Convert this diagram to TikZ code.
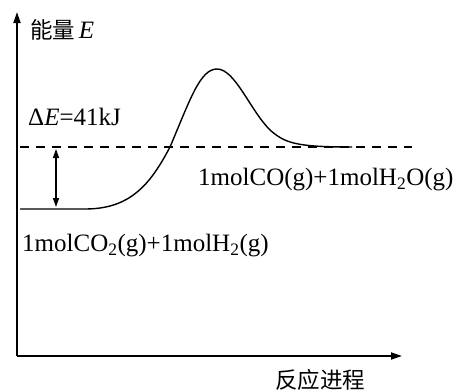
\documentclass[tikz,border=0pt]{standalone}
\usepackage{fontspec}
\setmainfont{Liberation Serif}
\newfontfamily\cjk{Noto Sans CJK SC}
\usetikzlibrary{arrows.meta}
\begin{document}
\begin{tikzpicture}[x=1pt,y=-1pt,
  axis/.style={line width=1.8pt,-{Triangle[length=11pt,width=7pt]}},
  curve/.style={line width=1.4pt},
  lbl/.style={font=\fontsize{25}{27}\selectfont,inner sep=0pt,anchor=west},
  cjklbl/.style={font=\cjk\fontsize{22.5}{24}\selectfont,inner sep=0pt},
  dim/.style={line width=1.4pt,{Triangle[length=9pt,width=6pt]}-{Triangle[length=9pt,width=6pt]}}]
\useasboundingbox (0,0) rectangle (453,391);
\coordinate (O) at (17,356);
\coordinate (Ytop) at (17,12);
\coordinate (Xend) at (402,356);
\draw[axis] (O) -- (Ytop);
\draw[axis] (O) -- (Xend);
\node[cjklbl,anchor=west] (ylab) at (30,30) {能量\,{\rmfamily\itshape\fontsize{25}{27}\selectfont E}};
\node[cjklbl] (xlab) at (320,380) {反应进程};
% dashed product level
\coordinate (dL) at (20,147);
\coordinate (dR) at (412,147);
\draw[line width=1.8pt,dash pattern=on 9pt off 7pt] (dL) -- (dR);
% energy curve
\coordinate (r0) at (20,209);
\coordinate (r1) at (85,209);
\coordinate (mid) at (170,147);
\coordinate (peak) at (217,69);
\coordinate (p1) at (270,130);
\coordinate (p2) at (352,147);
\draw[curve] (r0) -- (r1) .. controls (130,209) and (150,185) .. (mid)
  .. controls (190,100) and (200,69) .. (peak)
  .. controls (235,69) and (250,110) .. (p1)
  .. controls (285,143) and (295,147) .. (p2);
% delta E arrow
\coordinate (a1) at (56,149);
\coordinate (a2) at (56,207);
\draw[dim] (a1) -- (a2);
\node[lbl] (dE) at (28,117) {Δ\textit{E}=41kJ};
\node[lbl] (prod) at (198,180) {1molCO(g)+1molH\textsubscript{2}O(g)};
\node[lbl] (reac) at (22,246) {1molCO\textsubscript{2}(g)+1molH\textsubscript{2}(g)};
\end{tikzpicture}
\end{document}
